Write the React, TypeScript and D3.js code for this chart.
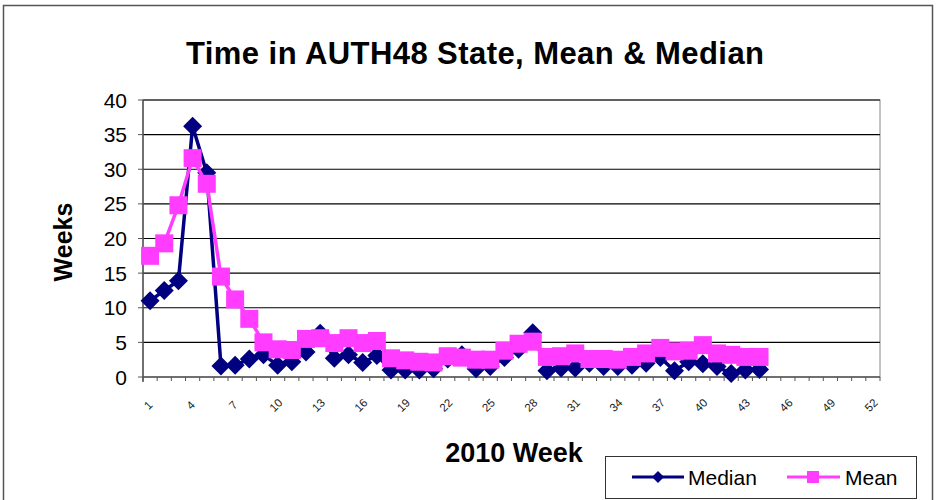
import React from "react";
import * as d3 from "d3";

// 2010 weeks on the category axis
const weeks = [
  1, 2, 3, 4, 5, 6, 7, 8, 9, 10, 11, 12, 13, 14, 15, 16, 17, 18, 19, 20, 21, 22, 23, 24, 25, 26,
  27, 28, 29, 30, 31, 32, 33, 34, 35, 36, 37, 38, 39, 40, 41, 42, 43, 44, 45, 46, 47, 48, 49, 50,
  51, 52,
];
const weekLabels = [1, 4, 7, 10, 13, 16, 19, 22, 25, 28, 31, 34, 37, 40, 43, 46, 49, 52];
const yTicks = [0, 5, 10, 15, 20, 25, 30, 35, 40];

// weeks 1..44 have data
const median = [
  11, 12.5, 13.9, 36.2, 29.5, 1.6, 1.7, 2.6, 3.2, 1.7, 2.2, 3.6, 6.3, 2.7, 3.2, 2.1, 3.1, 1.0, 1.0,
  1.0, 1.2, 2.6, 3.2, 1.2, 1.5, 2.8, 4.0, 6.4, 0.9, 1.3, 1.3, 2.0, 1.5, 1.5, 1.7, 2.0, 2.8, 0.9, 2.2,
  1.9, 1.5, 0.5, 1.0, 1.1,
];
const mean = [
  17.5, 19.3, 24.8, 31.6, 27.9, 14.5, 11.2, 8.4, 5.0, 4.0, 3.9, 5.5, 5.6, 4.9, 5.6, 4.9, 5.2, 2.7,
  2.4, 2.2, 2.1, 3.0, 2.8, 2.5, 2.5, 3.8, 4.8, 5.1, 2.9, 3.0, 3.4, 2.6, 2.6, 2.5, 2.9, 3.4, 4.2, 3.7,
  3.8, 4.6, 3.4, 3.2, 2.9, 2.9,
];

const NAVY = "#000080";
const PINK = "#ff3cff";
const FONT = "'Liberation Sans', Arial, sans-serif";

export default function App() {
  const W = 940;
  const H = 500;
  const plot = { left: 143, right: 880, top: 100, bottom: 377 };

  const x = d3
    .scaleBand<number>()
    .domain(weeks)
    .range([plot.left, plot.right])
    .padding(0);
  const y = d3.scaleLinear().domain([0, 40]).range([plot.bottom, plot.top]);
  const cx = (w: number) => (x(w) as number) + x.bandwidth() / 2;

  const line = d3
    .line<number>()
    .x((_, i) => cx(weeks[i]))
    .y((d) => y(d));

  const diamond = (px: number, py: number, r: number) =>
    `M${px},${py - r}L${px + r},${py}L${px},${py + r}L${px - r},${py}Z`;

  return (
    <svg width={W} height={H} style={{ position: "absolute", left: 0, top: 0 }} fontFamily={FONT}>
      <rect x={0} y={0} width={W} height={H} fill="#fff" />
      <rect x={3.5} y={5.5} width={929} height={520} fill="none" stroke="#555" strokeWidth={1.5} />

      <text x={475} y={64} textAnchor="middle" fontSize={31} fontWeight="bold" textLength={578}>
        Time in AUTH48 State, Mean &amp; Median
      </text>

      {/* plot area frame */}
      <rect
        x={plot.left}
        y={plot.top}
        width={plot.right - plot.left}
        height={plot.bottom - plot.top}
        fill="none"
        stroke="#888"
        strokeWidth={1}
      />

      {/* gridlines + y axis */}
      {yTicks.map((t) => (
        <g key={t}>
          {t > 0 && (
            <line x1={plot.left} x2={plot.right} y1={y(t)} y2={y(t)} stroke="#000" strokeWidth={1.2} />
          )}
          <line x1={plot.left - 5} x2={plot.left} y1={y(t)} y2={y(t)} stroke="#555" />
          <text x={plot.left - 16} y={y(t)} dy="0.36em" textAnchor="end" fontSize={21}>
            {t}
          </text>
        </g>
      ))}
      <line x1={plot.left} x2={plot.left} y1={plot.top} y2={plot.bottom + 5} stroke="#555" strokeWidth={1.5} />
      <line x1={plot.left} x2={plot.right} y1={plot.bottom} y2={plot.bottom} stroke="#555" strokeWidth={1.5} />

      {/* x ticks at category boundaries */}
      {weeks.map((w) => (
        <line
          key={w}
          x1={x(w) as number}
          x2={x(w) as number}
          y1={plot.bottom}
          y2={plot.bottom + 4}
          stroke="#555"
        />
      ))}
      <line x1={plot.right} x2={plot.right} y1={plot.bottom} y2={plot.bottom + 4} stroke="#555" />
      {weekLabels.map((w) => (
        <text
          key={w}
          transform={`translate(${cx(w) + 1},${plot.bottom + 31}) rotate(-45)`}
          textAnchor="middle"
          fontSize={11.5}
          fill="#222"
        >
          {w}
        </text>
      ))}

      <text
        transform={`translate(72,242) rotate(-90)`}
        textAnchor="middle"
        fontSize={25}
        fontWeight="bold"
      >
        Weeks
      </text>
      <text x={514} y={462} textAnchor="middle" fontSize={27} fontWeight="bold">
        2010 Week
      </text>

      {/* Median series */}
      <path d={line(median) ?? ""} fill="none" stroke={NAVY} strokeWidth={3.5} />
      {median.map((v, i) => (
        <path key={i} d={diamond(cx(weeks[i]), y(v), 9.5)} fill={NAVY} />
      ))}

      {/* Mean series */}
      <path d={line(mean) ?? ""} fill="none" stroke={PINK} strokeWidth={3.5} />
      {mean.map((v, i) => (
        <rect key={i} x={cx(weeks[i]) - 9} y={y(v) - 9} width={18} height={18} fill={PINK} />
      ))}

      {/* legend */}
      <rect x={605.5} y={456.5} width={311} height={42} fill="#fff" stroke="#333" strokeWidth={1} />
      <line x1={632} x2={684} y1={477} y2={477} stroke={NAVY} strokeWidth={3} />
      <path d={diamond(658, 477, 6)} fill={NAVY} />
      <text x={688} y={477} dy="0.36em" fontSize={21}>
        Median
      </text>
      <line x1={787} x2={840} y1={477} y2={477} stroke={PINK} strokeWidth={3} />
      <rect x={807} y={471} width={12} height={12} fill={PINK} />
      <text x={845} y={477} dy="0.36em" fontSize={21}>
        Mean
      </text>
    </svg>
  );
}
